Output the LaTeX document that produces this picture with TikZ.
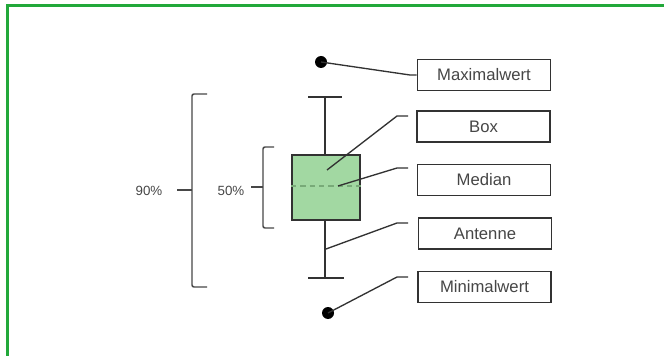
\documentclass[tikz,border=0pt]{standalone}
\usepackage{fontspec}
\setmainfont{Liberation Sans}
\definecolor{frame}{RGB}{34,168,58}
\definecolor{boxfill}{RGB}{162,216,162}
\definecolor{ink}{RGB}{50,50,50}
\definecolor{txt}{RGB}{70,70,70}
\definecolor{medc}{RGB}{120,170,120}
\begin{document}
\begin{tikzpicture}[x=0.75pt,y=-0.75pt,
  lbl/.style={draw=ink, line width=1.1pt, fill=white, minimum width=100pt, minimum height=23.5pt, inner sep=0pt, font=\fontsize{12.5pt}{14pt}\selectfont, text=txt},
  pct/.style={font=\fontsize{10pt}{12pt}\selectfont, text=txt, inner sep=0pt},
  whisk/.style={draw=ink, line width=1.4pt},
  brack/.style={draw=ink!90, line width=1.1pt, rounded corners=1.5pt},
  conn/.style={draw=ink, line width=1pt},
  dot/.style={circle, fill=black, minimum size=9pt, inner sep=0pt}]
\useasboundingbox (0,0) rectangle (664,356);
\fill[white] (0,0) rectangle (664,356);
\draw[frame, line width=1.6pt] (7.5,360) -- (7.5,5.5) -- (670,5.5);

% box plot
\draw[whisk] (325,97) -- (325,155);
\draw[whisk] (325,220) -- (325,278);
\draw[whisk] (308,97) -- (342,97);
\draw[whisk] (308,278) -- (344,278);
\node[draw=ink, line width=1.4pt, fill=boxfill, minimum width=51pt, minimum height=48.75pt, inner sep=0pt] (iqr) at (326,187.5) {};
\draw[medc, line width=1.1pt, dash pattern=on 4pt off 3pt] (iqr.west |- 0,186) -- (iqr.east |- 0,186);

\node[dot] (maxd) at (321,62) {};
\node[dot] (mind) at (328,313) {};

% brackets
\draw[brack] (207,94) -- (192,94) -- (192,287) -- (207,287);
\draw[brack] (177,190) -- (192,190);
\draw[brack] (274,147) -- (263,147) -- (263,228) -- (274,228);
\draw[brack] (251,187) -- (263,187);
\node[pct] (p90) at (149,191) {90\%};
\node[pct] (p50) at (231,191) {50\%};

% labels
\node[lbl] (lmax) at (484,75) {Maximalwert};
\node[lbl] (lbox) at (483.5,126.5) {Box};
\node[lbl] (lmed) at (484,180) {Median};
\node[lbl] (lant) at (485,233.5) {Antenne};
\node[lbl] (lmin) at (484.5,287) {Minimalwert};

% connectors
\coordinate (cbox) at (327,170);
\coordinate (cmed) at (338,186);
\coordinate (cant) at (326,249);
\coordinate (ebox) at (408,116);
\coordinate (emed) at (408,168);
\coordinate (eant) at (408,223);
\coordinate (emin) at (408,277);
\draw[conn] (maxd.center) -- (410,75) -- (lmax.west);
\draw[conn] (cbox) -- (397,116) -- (ebox);
\draw[conn] (cmed) -- (397,168) -- (emed);
\draw[conn] (cant) -- (397,223) -- (eant);
\draw[conn] (mind.center) -- (397,277) -- (emin);
\end{tikzpicture}
\end{document}
